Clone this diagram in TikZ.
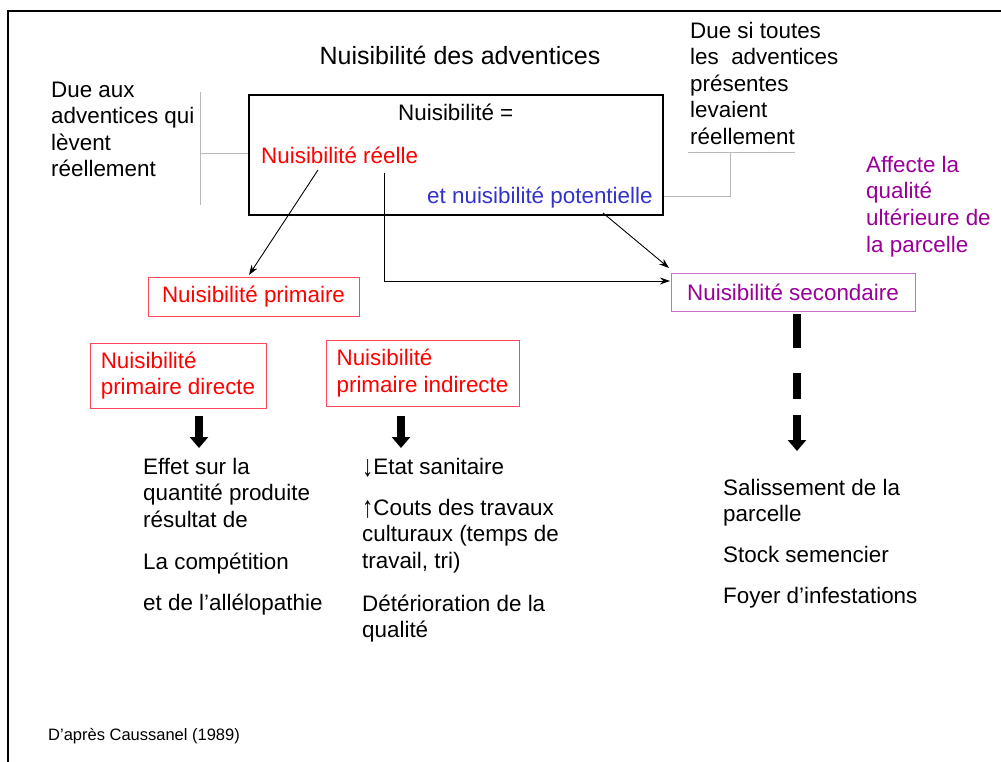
\documentclass[tikz,border=0pt]{standalone}
\usepackage{fontspec}
\setmainfont{Liberation Sans}
\usetikzlibrary{arrows.meta}
\definecolor{nred}{RGB}{255,0,0}
\definecolor{nblue}{RGB}{51,51,204}
\definecolor{npurp}{RGB}{153,0,153}
\definecolor{nboxred}{RGB}{255,70,90}
\definecolor{nboxpurp}{RGB}{200,110,200}
\definecolor{ngray}{RGB}{185,185,185}
\newcommand\fst{\rule{0pt}{20pt}}
\newcommand\tallarr[1]{\raisebox{-2.5pt}{\scalebox{1}[1.35]{#1}}}
\begin{document}
\begin{tikzpicture}[x=1pt,y=-1pt,
  every node/.style={inner sep=0pt},
  body/.style={font=\fontsize{22.4}{26.6}\selectfont},
  blk/.style={body, anchor=north west, align=left},
  ln/.style={body, anchor=base west},
  redbox/.style={draw=nboxred, line width=1pt, text=nred, body, align=left},
  thinarr/.style={line width=0.9pt, -{Stealth[length=10pt,width=7pt]}},
  bigarr/.style={line width=7.5pt, -{Triangle[length=11pt,width=18pt]}},
  grayline/.style={ngray, line width=1pt},
]
\useasboundingbox (0,0) rectangle (1001,762);
\fill[white] (0,0) rectangle (1001,762);
% frame
\draw[line width=2pt] (8,763) -- (8,11) -- (1002,11);

% main box and its texts
\node[draw, line width=1.2pt, minimum width=414pt, minimum height=120pt] (mainbox) at (456,155) {};
\node[anchor=base, font=\fontsize{25}{30}\selectfont] (title) at (460,65) {Nuisibilité des adventices};
\node[ln] (eq) at (398,121) {Nuisibilité =};
\node[ln, text=nred] (reel) at (261,164) {Nuisibilité réelle};
\node[ln, text=nblue] (pot) at (427,204) {et nuisibilité potentielle};

% side texts
\node[blk] (left) at (51,77) {\fst Due aux\\adventices qui\\lèvent\\réellement};
\node[blk] (right) at (690,18) {\fst Due si toutes\\les~ adventices\\présentes\\levaient\\réellement};
\node[blk, text=npurp] (aff) at (866,152) {\fst Affecte la\\qualité\\ultérieure de\\la parcelle};

% boxes
\node[redbox, minimum width=211pt, minimum height=39pt] (prim) at (253.5,296.5) {Nuisibilité primaire};
\node[draw=nboxpurp, line width=1pt, text=npurp, body, minimum width=244pt, minimum height=38pt] (sec) at (793,292) {Nuisibilité secondaire};
\node[redbox, minimum width=176pt, minimum height=65pt] (dir) at (178,375.5) {Nuisibilité\\primaire directe};
\node[redbox, minimum width=193pt, minimum height=66pt] (ind) at (422.5,373) {Nuisibilité\\primaire indirecte};

% lower texts
\node[blk] (eff) at (143,454) {\fst Effet sur la\\quantité produite\\résultat de};
\node[ln] (comp) at (143,569) {La compétition};
\node[ln] (allelo) at (143,610) {et de l’allélopathie};
\node[ln] (etat) at (362,474) {\tallarr{↓}Etat sanitaire};
\node[blk] (couts) at (362,495) {\fst \tallarr{↑}Couts des travaux\\culturaux (temps de\\travail, tri)};
\node[blk] (deter) at (362,591) {\fst Détérioration de la\\qualité};
\node[blk] (sal) at (723,475) {\fst Salissement de la\\parcelle};
\node[ln] (stock) at (723,562) {Stock semencier};
\node[ln] (foyer) at (723,603) {Foyer d’infestations};
\node[anchor=base west, font=\fontsize{16.5}{20}\selectfont] (src) at (48,740) {D'après Caussanel (1989)};

% gray brackets
\coordinate (gl) at (200,154);
\draw[grayline] (200,92) -- (200,205);
\draw[grayline] (gl) -- (gl -| mainbox.west);
\coordinate (g1) at (730,153);
\coordinate (g2) at (730,197);
\draw[grayline] (688,153) -- (795,153);
\draw[grayline] (g1) -- (g2) -- (g2 -| mainbox.east);

% thin connectors
\coordinate (r1) at (318,170);
\coordinate (p1) at (249,275);
\draw[thinarr] (r1) -- (p1);
\coordinate (r2) at (384,173);
\coordinate (s1) at (670,281);
\draw[thinarr] (r2) |- (s1);
\coordinate (q1) at (603,213);
\coordinate (s2) at (669,268);
\draw[thinarr] (q1) -- (s2);

% big arrows
\coordinate (d1) at (199,416); \coordinate (d2) at (199,448);
\draw[bigarr] (d1) -- (d2);
\coordinate (i1) at (401,416); \coordinate (i2) at (401,448);
\draw[bigarr] (i1) -- (i2);
\coordinate (e1) at (797,314); \coordinate (e2) at (797,451);
\draw[bigarr, dash pattern=on 34pt off 25pt on 26pt off 16pt on 200pt] (e1) -- (e2);
\end{tikzpicture}
\end{document}
